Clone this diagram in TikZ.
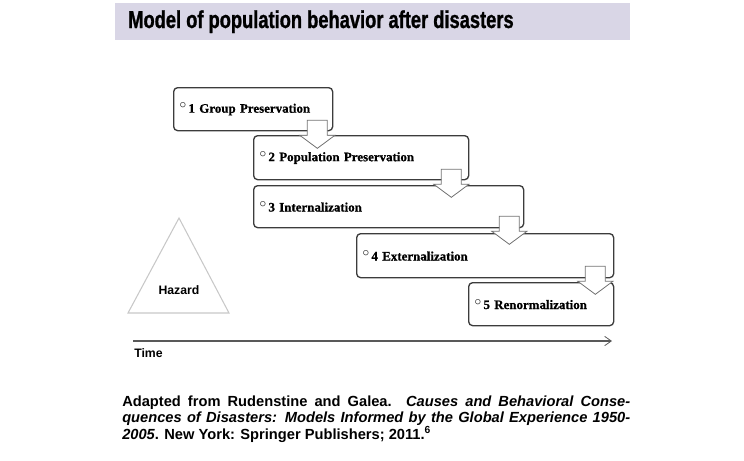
\documentclass[tikz,border=0pt]{standalone}
\usepackage{fontspec}
\setmainfont{Liberation Serif}[BoldFeatures={FakeBold=0.8}]
\newfontfamily\headfont[FakeStretch=0.75,FakeBold=1]{Liberation Sans}
\newfontfamily\notefont{Liberation Sans}
\newfontfamily\labelfont{Liberation Sans}
\usetikzlibrary{positioning,calc,arrows.meta}
\definecolor{bandcol}{RGB}{217,214,230}
\definecolor{boxcol}{RGB}{60,60,60}
\definecolor{tricol}{RGB}{200,200,200}
\newcommand\stagedot{\raisebox{0.3em}{$\circ$}\,}

\begin{document}
\begin{tikzpicture}[
  x=0.75pt,y=-0.75pt,
  every node/.style={inner sep=0pt},
  stage/.style={draw=boxcol,line width=1pt,rounded corners=3pt,anchor=north west,
    inner xsep=4.5pt,align=left,font=\bfseries\fontsize{9.7}{12}\selectfont},
  label node/.style={font=\labelfont\bfseries\fontsize{9.2}{11}\selectfont},
  pics/stepdown/.style={code={
    \draw[draw=black!55,fill=white,line width=0.6pt]
      (-10,0) -- (10,0) -- (10,15) -- (17.5,15) -- (0,28) -- (-17.5,15) -- (-10,15) -- cycle;}},
  ]
  \useasboundingbox (0,0) rectangle (744,461);
  \fill[bandcol] (115,3) rectangle (630,40);
  \node[anchor=base west,font=\headfont\bfseries\fontsize{18.3}{20}\selectfont] (title) at (128,28)
    {Model of population behavior after disasters};

  \node[stage,text width=110.25pt,minimum height=32.25pt] (S1) at (173,87) {\stagedot 1 Group Preservation};
  \node[stage,text width=152.25pt,minimum height=33pt] (S2) at (253,135) {\stagedot 2 Population Preservation};
  \node[stage,text width=193.5pt,minimum height=31.5pt] (S3) at (253,185) {\stagedot 3 Internalization};
  \node[stage,text width=183.75pt,minimum height=33pt] (S4) at (356,233) {\stagedot 4 Externalization};
  \node[stage,text width=99.75pt,minimum height=32.25pt] (S5) at (468,282) {\stagedot 5 Renormalization};
  \pic at ($(S1.south east)+(-16,-11)$) {stepdown};
  \pic at ($(S2.south east)+(-18,-11)$) {stepdown};
  \pic at ($(S3.south east)+(-15,-12)$) {stepdown};
  \pic at ($(S4.south east)+(-19,-12)$) {stepdown};

  \draw[tricol,line width=0.8pt] (179,218) -- (229,313) -- (128,313) -- cycle;
  \node[label node,anchor=base] (hazard) at (179,294) {Hazard};

  \coordinate (t0) at (133,341);
  \coordinate (t1) at (612,341);
  \draw[black!65,line width=1pt,-{Straight Barb[length=5pt,width=7pt,line width=0.6pt]}] (t0) -- (t1);
  \node[label node,anchor=base west] (time) at (134,357) {Time};

  \node[anchor=north west,text width=381pt,align=justify,
    font=\notefont\bfseries\fontsize{11}{11.6}\selectfont] (note) at (122,396)
    {Adapted from Rudenstine and Galea. \textit{Causes and Behavioral Conse-}\linebreak
     \textit{quences of Disasters: Models Informed by the Global Experience 1950-}\linebreak
     \textit{2005}. New York: Springer Publishers; 2011.\textsuperscript{6}};
\end{tikzpicture}
\end{document}
